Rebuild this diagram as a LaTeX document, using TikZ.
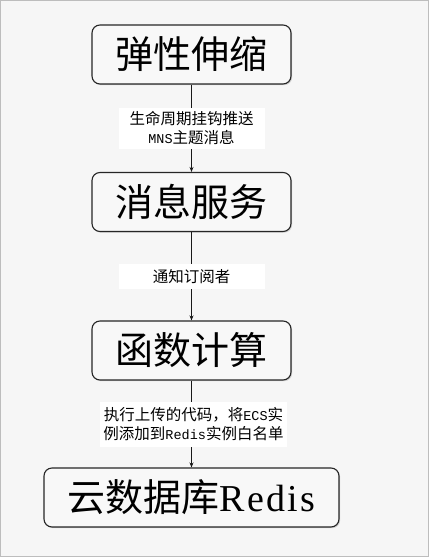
\documentclass[tikz,border=0pt]{standalone}
\usepackage{fontspec}
\setmainfont{Noto Sans CJK SC}
\newfontfamily\latinmono{Liberation Mono}
\newfontfamily\latinserif{Liberation Serif}[LetterSpace=6]
\usetikzlibrary{arrows.meta,shadows}
\definecolor{bgcol}{HTML}{F6F6F6}
\definecolor{boxfill}{HTML}{F8F8F8}
\definecolor{framecol}{HTML}{BDBDBD}
\newcommand{\lm}[1]{{\latinmono\fontsize{13.5}{19}\selectfont #1}}
\tikzset{
  stagebox/.style={draw=black!85, line width=1.1pt, rounded corners=8pt, fill=boxfill,
    minimum height=59pt, inner sep=0pt, font=\fontsize{38}{40}\selectfont,
    drop shadow={shadow xshift=1.2pt, shadow yshift=-1.2pt, fill=black!35, opacity=0.45}},
  flowlabel/.style={fill=white, inner sep=0pt, align=center,
    font=\fontsize{15.5}{19}\selectfont},
  flowarrow/.style={draw=black!90, line width=0.8pt, -{Stealth[length=5pt,width=4pt]}}
}
\begin{document}
\begin{tikzpicture}[x=1pt,y=-1pt]
\useasboundingbox (0,0) rectangle (429,557);
\draw[draw=framecol, line width=1pt, fill=bgcol] (0.5,0.5) rectangle (428.5,556.5);
\node[stagebox, minimum width=199pt] (b1) at (191.5,54.5) {弹性伸缩};
\node[stagebox, minimum width=199pt] (b2) at (191.5,202) {消息服务};
\node[stagebox, minimum width=199pt] (b3) at (191.5,350.5) {函数计算};
\node[stagebox, minimum width=295pt] (b4) at (191.5,497.5) {云数据库{\latinserif Redis}};
\draw[flowarrow] (b1) -- node[flowlabel, minimum width=146pt, minimum height=41pt] (l1) {生命周期挂钩推送\\\lm{MNS}主题消息} (b2);
\draw[flowarrow] (b2) -- node[flowlabel, minimum width=146pt, minimum height=25pt] (l2) {通知订阅者} (b3);
\draw[flowarrow] (b3) -- node[flowlabel, minimum width=187pt, minimum height=45pt, xshift=2pt] (l3) {执行上传的代码，将\lm{ECS}实\\例添加到\lm{Redis}实例白名单} (b4);
\end{tikzpicture}
\end{document}
